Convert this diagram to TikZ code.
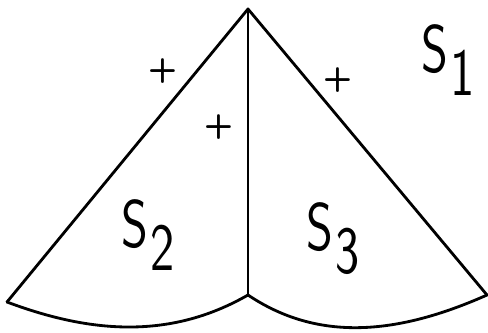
\documentclass[tikz,border=0pt]{standalone}
\usepackage{tikz}
\usetikzlibrary{positioning, calc}

\tikzset{
  edgeline/.style={line width=2pt, line join=round, line cap=round},
  regionlabel/.style={font=\fontsize{48}{52}\selectfont\sffamily, inner sep=0pt, xscale=0.76, anchor=north west},
  signlabel/.style={font=\fontsize{24}{26}\selectfont\sffamily\bfseries, inner sep=0pt}
}
\newcommand{\lowidx}[1]{\kern2pt\raisebox{-0.52\height}{#1}}

\begin{document}
\begin{tikzpicture}[x=0.025cm, y=-0.025cm]
		\useasboundingbox (0,0) rectangle (488,332);

		% Eckpunkte
		\coordinate (apex) at (248,9);
		\coordinate (leftend) at (7,302);
		\coordinate (mid) at (248,295);
		\coordinate (rightend) at (487,295);

		% Kanten
		\draw[edgeline] (leftend) -- (apex) -- (rightend);
		\draw[edgeline] (apex) -- (mid);
		\draw[edgeline] (leftend) .. controls (87,332) and (168,341) .. (mid);
		\draw[edgeline] (mid) .. controls (318,342) and (397,335) .. (rightend);

		% Bereiche
		\node[regionlabel] (s1) at (421,24) {S\lowidx{1}};
		\node[regionlabel] (s2) at (121,199) {S\lowidx{2}};
		\node[regionlabel] (s3) at (306,202) {S\lowidx{3}};

		% Vorzeichen
		\node[signlabel] (p1) at (163,71) {+};
		\node[signlabel] (p2) at (219,127) {+};
		\node[signlabel] (p3) at (338,80) {+};
	\end{tikzpicture}
\end{document}
